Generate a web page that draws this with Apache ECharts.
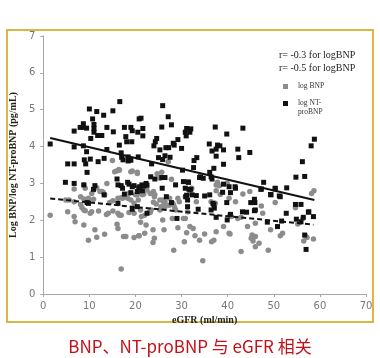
<!DOCTYPE html>
<html>
<head>
<meta charset="utf-8">
<script src="https://cdn.jsdelivr.net/npm/echarts@6/dist/echarts.min.js"></script>
<style>
html,body{margin:0;padding:0;background:#fff;}
#chart{width:380px;height:358px;}
</style>
</head>
<body>
<div id="chart"></div>
<script>
// ---- data (eGFR ml/min, log value) ----
const xTicks = [0, 10, 20, 30, 40, 50, 60, 70];
const yTicks = [0, 1, 2, 3, 4, 5, 6, 7];

const logNTproBNP = [
[16.6,5.22],[10.0,5.02],[11.6,4.95],[15.1,4.97],[13.1,4.85],[10.7,4.75],[8.7,4.62],[8.0,4.52],[8.7,4.52],[9.4,4.50],
[11.0,4.60],[11.0,4.49],[6.7,4.42],[13.8,4.52],[11.0,4.39],[11.8,4.30],[12.7,4.30],[10.3,4.22],[15.2,4.40],[17.6,4.52],
[19.0,4.52],[19.3,4.43],[17.9,4.27],[18.1,4.13],[19.2,4.13],[16.5,4.04],[20.8,4.75],[1.5,4.07],[6.7,3.99],[8.7,4.02],
[9.4,3.86],[13.8,3.92],[16.9,3.83],[18.4,3.72],[17.0,3.71],[17.3,3.64],[19.0,3.63],[18.4,3.61],[10.2,3.66],[8.9,3.64],
[9.2,3.53],[11.9,3.59],[13.2,3.68],[5.3,3.53],[6.7,3.53],[9.5,3.30],[4.8,3.03],[6.7,3.00],[8.8,2.96],[11.2,2.94],
[16.0,3.12],[16.2,2.96],[16.9,2.94],[18.3,3.03],[19.3,2.91],
[25.9,5.11],[21.2,4.77],[27.1,4.81],[21.6,4.49],[20.5,4.39],[21.6,4.29],[25.7,4.53],[27.8,4.59],[31.1,4.49],[32.0,4.48],
[30.8,4.39],[31.8,4.39],[31.0,4.29],[37.3,4.53],[39.8,4.34],[24.6,4.22],[24.3,4.13],[29.2,4.19],[28.2,4.09],[28.4,4.04],
[24.0,4.02],[26.6,3.97],[27.2,3.97],[30.0,3.95],[36.0,4.07],[37.8,4.04],[38.3,4.02],[37.5,3.93],[36.6,3.88],[39.1,3.91],
[37.5,3.74],[25.3,3.91],[26.4,3.75],[27.5,3.71],[25.0,3.70],[25.9,3.65],[20.6,3.72],[33.3,3.70],[32.7,3.62],[39.1,3.52],
[23.5,3.53],[32.6,3.43],[37.0,3.41],[36.1,3.30],[30.2,3.36],[23.3,3.18],[26.4,3.16],[25.7,3.16],[34.1,3.18],[34.7,3.14],
[36.4,3.18],[28.7,2.96],[30.4,3.05],[31.5,3.03],[21.4,2.96],[22.3,3.00],[25.8,2.87],[20.9,2.91],[39.1,2.98],
[43.3,4.50],[42.2,3.93],[42.4,3.70],[44.8,3.84],[58.8,4.20],[58.1,4.02],[56.2,3.59],[54.8,3.17],[56.7,3.19],[47.8,3.03],
[41.6,2.91],[50.3,2.87],[52.8,2.88],
[33.9,3.16],[36.6,3.12],[31.4,3.04],[32.0,2.84],[31.6,2.84],[47.2,2.84],[49.4,2.69],[51.2,2.66],[40.6,2.75],[31.1,2.68],
[33.2,2.67],[35.0,2.66],[36.1,2.69],[39.8,2.48],[45.0,2.48],[45.9,2.48],[45.8,2.57],[36.8,2.46],[36.4,2.28],[31.3,2.55],
[31.3,2.37],[54.7,2.43],[55.9,2.43],[43.2,2.23],[44.1,2.22],[45.8,2.26],[52.7,2.19],[57.5,2.22],[33.6,2.30],[56.4,2.08],
[56.7,1.60],[57.0,1.21],[57.6,2.23],[58.6,2.10],[48.6,1.95],[50.8,1.83],[51.7,1.98],[54.9,2.03],[55.9,1.96],[47.3,2.85],
[49.3,2.70],[50.3,2.85],[51.4,2.64],[41.7,2.87],[46.0,2.28],
[30.8,2.87],[32.3,2.69],[30.9,2.64],[37.0,2.43],[37.1,2.33],[40.3,2.91],[38.9,2.76],[40.6,2.16],[39.9,2.01],[37.5,2.08],
[29.0,2.05],
[10.9,2.84],[17.2,2.87],[18.6,2.98],[19.7,2.94],[20.7,2.88],[21.8,2.93],[22.5,2.95],[21.5,2.80],[20.4,2.78],[19.0,2.75],
[17.6,2.71],[24.2,3.12],[9.5,2.48],[9.8,2.46],[16.2,2.46],[26.7,2.64],[27.8,2.48],[19.3,2.30],[20.4,2.37],[22.5,2.19],
[13.2,2.69]
];

const logBNP = [
[15.0,3.62],[16.4,3.38],[15.9,3.34],[13.8,3.00],[19.3,3.34],[20.4,3.30],[27.1,3.59],
[20.4,3.27],[24.7,3.26],[25.7,3.30],[25.3,3.14],[27.8,3.11],[37.5,2.96],[37.8,3.03],
[38.2,2.94],[37.5,2.80],[38.4,2.70],[39.9,3.00],[44.8,2.78],[43.3,2.71],[32.2,2.87],[31.8,2.73],[30.8,2.64],[33.2,2.50],
[36.4,2.50],[37.3,2.46],[41.7,2.50],[50.3,2.48],[58.2,2.73],[58.7,2.80],[47.3,2.39],[47.6,2.19],[54.7,2.34],[31.3,2.23],
[40.5,2.16],[40.8,2.10],[42.2,2.05],[42.9,2.08],[46.0,1.92],[44.3,1.83],[56.3,2.05],[55.2,1.90],[51.9,1.65],[51.4,1.58],
[49.3,1.74],[45.3,1.60],[46.0,1.56],[45.1,1.51],[45.5,1.44],[46.8,1.38],[46.0,1.28],[57.0,1.56],[56.5,1.44],[58.6,1.49],
[57.2,1.53],[48.8,1.19],[42.9,1.15],[40.5,1.63],
[29.2,2.60],[25.9,2.55],[26.2,2.46],[24.5,2.44],[23.9,2.49],[25.5,2.37],[23.0,2.23],[23.4,2.28],[22.0,2.14],[21.3,2.10],
[27.3,2.41],[28.3,2.41],[28.7,2.28],[30.4,2.05],[30.8,2.05],[28.0,2.05],[25.9,2.01],[22.3,1.87],[23.8,1.74],[26.2,1.74],
[29.2,1.80],[31.8,1.83],[32.5,1.78],[31.1,1.66],[32.9,1.58],[33.9,1.46],[35.0,1.63],[37.5,1.69],[39.1,1.83],[40.3,1.65],
[20.8,1.58],[22.0,1.65],[23.8,1.40],[24.1,1.51],[30.6,1.42],[37.0,1.46],[36.5,1.42],[28.3,1.19],[34.6,0.90],[21.1,1.95],
[21.3,2.78],[21.5,2.69],[24.1,2.64],[20.6,2.55],[40.3,2.60],
[1.5,2.14],[6.7,2.85],[13.0,2.76],[12.3,2.78],[11.6,2.88],[8.8,2.58],[6.7,2.50],[8.4,2.34],[8.8,2.28],[4.9,2.55],
[5.3,2.23],[6.7,2.10],[6.9,1.96],[10.2,2.19],[10.5,2.23],[12.0,2.25],[13.7,2.16],[15.1,2.25],[16.2,2.19],[16.9,2.14],
[8.8,1.87],[11.2,1.74],[11.6,1.54],[9.8,1.46],[13.3,1.62],[16.0,1.89],[16.2,1.78],[17.4,1.56],[17.9,1.56],[19.7,1.53],
[20.7,1.58],[16.9,0.68],[8.1,2.43],[9.8,2.50],[18.3,2.60],[19.0,2.55],[20.4,2.69],[19.7,2.46],[16.2,2.60],[16.9,2.61],
[16.5,3.36],[15.5,3.32],[19.0,3.32],[8.8,2.96],[9.1,2.87],[10.9,2.82],[10.5,2.73],[12.7,2.78],[13.3,2.69],
[8.1,2.64],[5.6,2.55],[9.8,2.60],[10.9,2.57],[14.4,2.48],[15.1,2.53],[17.2,2.60],[18.6,2.73],[20.0,2.69],[21.1,2.78],
[21.8,2.71],[22.5,2.82],[23.2,2.73],[23.9,2.78],[24.2,2.69],[25.3,2.55],[26.4,2.50],[27.4,2.60],[28.1,2.46],[29.5,2.50],
[26.4,2.37],[28.5,2.34],[9.1,2.26],[14.1,2.19],[16.5,2.14],[18.6,2.21],[19.7,2.19],[21.1,2.28],[23.2,2.21],[25.3,2.28]
];

// regression lines (endpoints)
const trendNTproBNP = [[1.5,4.23],[58.8,2.55]];
const trendBNP = [[1.5,2.59],[58.6,1.88]];

const corrTexts = ['r= -0.3 for logBNP', 'r= -0.5 for logBNP'];
const legendNames = ['log BNP', 'log NT-proBNP'];
const titleText = 'BNP、NT-proBNP 与 eGFR 相关';
const xName = 'eGFR (ml/min)';
const yName = 'Log BNP/log NT-proBNP (pg/mL)';

const chart = echarts.init(document.getElementById('chart'), null, {renderer:'canvas'});
const serif = '"Liberation Serif", "DejaVu Serif", serif';
const axisGray = '#a6a6a6';
const legendText = {fontSize:7.5, fontFamily:serif, color:'#333', lineHeight:9};

chart.setOption({
  animation: false,
  backgroundColor: '#ffffff',
  title: {
    text: titleText,
    left: 'center',
    top: 333,
    textStyle: {color:'#c3101a', fontSize:17, fontWeight:'normal', fontFamily:'"Noto Sans CJK SC", "Noto Sans", sans-serif'}
  },
  graphic: [
    {type:'rect', shape:{x:7, y:30, width:366, height:292}, style:{fill:'none', stroke:'#d8b64a', lineWidth:2}, z:-1},
    {type:'text', x:279, y:50, style:{text:corrTexts[0], fill:'#222', font:'10px ' + serif}},
    {type:'text', x:279, y:63, style:{text:corrTexts[1], fill:'#222', font:'10px ' + serif}},
    {type:'text', x:298, y:108, style:{text:'proBNP', fill:'#333', font:'7.5px ' + serif}}
  ],
  legend: [
    {left:283, top:82, itemWidth:5, itemHeight:5, padding:0,
     data:[{name:legendNames[0], icon:'rect'}],
     textStyle:Object.assign({padding:[0,0,0,5]}, legendText)},
    {left:283, top:99, itemWidth:5, itemHeight:5, padding:0,
     data:[{name:legendNames[1], icon:'rect'}],
     formatter:function(n){ return 'log NT-'; },
     textStyle:Object.assign({padding:[0,0,0,5]}, legendText)}
  ],
  grid: {left:34, right:14, top:36, bottom:64},
  xAxis: {
    type:'value', min:xTicks[0], max:xTicks[xTicks.length-1], interval:10,
    name:xName, nameLocation:'middle', nameGap:11,
    nameTextStyle:{fontFamily:serif, fontWeight:'bold', fontSize:10, color:'#222'},
    axisLine:{show:true, lineStyle:{color:axisGray, width:1}},
    axisTick:{show:true, length:3, lineStyle:{color:axisGray}},
    axisLabel:{margin:7, color:'#777', fontSize:10, fontFamily:'"DejaVu Sans", sans-serif'},
    splitLine:{show:false}
  },
  yAxis: {
    type:'value', min:yTicks[0], max:yTicks[yTicks.length-1], interval:1,
    name:yName, nameLocation:'middle', nameGap:16,
    nameTextStyle:{fontFamily:serif, fontWeight:'bold', fontSize:10, color:'#222'},
    axisLine:{show:true, lineStyle:{color:axisGray, width:1}},
    axisTick:{show:true, length:3, lineStyle:{color:axisGray}},
    axisLabel:{margin:8, color:'#777', fontSize:10, fontFamily:'"DejaVu Sans", sans-serif'},
    splitLine:{show:false}
  },
  series: [
    {name:legendNames[0], type:'scatter', data:logBNP, symbol:'circle', symbolSize:5.5,
     itemStyle:{color:'#8c8c8c', opacity:1}, z:2},
    {name:legendNames[1], type:'scatter', data:logNTproBNP, symbol:'rect', symbolSize:5,
     itemStyle:{color:'#111111', opacity:1}, z:3},
    {name:'trend NT', type:'line', data:trendNTproBNP, symbol:'none', silent:true,
     lineStyle:{color:'#111', width:2, type:'solid'}, z:4},
    {name:'trend BNP', type:'line', data:trendBNP, symbol:'none', silent:true,
     lineStyle:{color:'#111', width:2, type:[5,3]}, z:4}
  ]
});
</script>
</body>
</html>
